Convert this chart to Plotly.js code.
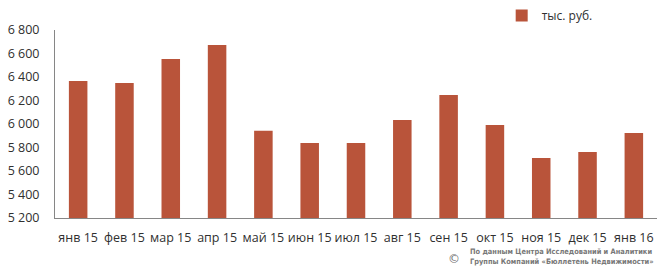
<!DOCTYPE html>
<html>
<head>
<meta charset="utf-8">
<script src="https://cdn.plot.ly/plotly-3.0.1.min.js"></script>
<style>html,body{margin:0;padding:0;background:#fff;}#chart{width:668px;height:270px;}</style>
</head>
<body>
<div id="chart"></div>
<script>
const categories = ["янв 15","фев 15","мар 15","апр 15","май 15","июн 15","июл 15","авг 15","сен 15","окт 15","ноя 15","дек 15","янв 16"];
const values = [6366, 6349, 6553, 6672, 5943, 5838, 5838, 6034, 6247, 5991, 5711, 5762, 5923];
const seriesName = "тыс. руб.";
const yTicks = [5200, 5400, 5600, 5800, 6000, 6200, 6400, 6600, 6800];
const yTickLabels = ["5 200","5 400","5 600","5 800","6 000","6 200","6 400","6 600","6 800"];
const sourceLine1 = "По данным Центра Исследований и Аналитики";
const sourceLine2 = "Группы Компаний «Бюллетень Недвижимости»";

const trace = {
  type: "bar",
  x: categories,
  y: values,
  name: seriesName,
  marker: {color: "#B9543A"},
  width: 0.4,
  showlegend: true
};

// plot area spans y 1..218 px; the y axis occupies 30..218 px
const layout = {
  width: 668, height: 270,
  margin: {l: 55, r: 11, t: 1, b: 52},
  paper_bgcolor: "#fff", plot_bgcolor: "#fff",
  font: {family: "Open Sans, sans-serif", size: 12, color: "#404040"},
  xaxis: {
    type: "category",
    showline: true, linecolor: "#868686", linewidth: 1,
    showgrid: false, zeroline: false, ticks: "",
    ticklabelstandoff: 8,
    tickangle: 0,
    tickfont: {size: 12.5, color: "#303030"}
  },
  yaxis: {
    domain: [0, 188 / 217],
    range: [5200, 6800],
    tickvals: yTicks, ticktext: yTickLabels,
    showline: true, linecolor: "#868686", linewidth: 1,
    showgrid: false, zeroline: false, ticks: "",
    ticklabelstandoff: 12,
    tickfont: {size: 12.5, color: "#303030"}
  },
  showlegend: true,
  legend: {
    x: 0.742, y: 1, xanchor: "left", yanchor: "top",
    bgcolor: "rgba(0,0,0,0)",
    font: {size: 12, color: "#303030"}
  },
  annotations: [
    {xref: "paper", yref: "paper", x: 0.995, y: -0.177, xanchor: "right", yanchor: "middle",
     text: "<b>" + sourceLine1 + "</b><br><b>" + sourceLine2 + "</b>", align: "left", showarrow: false,
     borderpad: 0,
     font: {family: "DejaVu Sans Condensed, sans-serif", size: 7.4, color: "#787878"}},
    {xref: "paper", yref: "paper", x: 0.662, y: -0.189, xanchor: "center", yanchor: "middle",
     text: "©", showarrow: false, borderpad: 0,
     font: {family: "DejaVu Sans, sans-serif", size: 12, color: "#707070"}}
  ]
};

Plotly.newPlot("chart", [trace], layout, {staticPlot: true, displayModeBar: false});
</script>
</body>
</html>
